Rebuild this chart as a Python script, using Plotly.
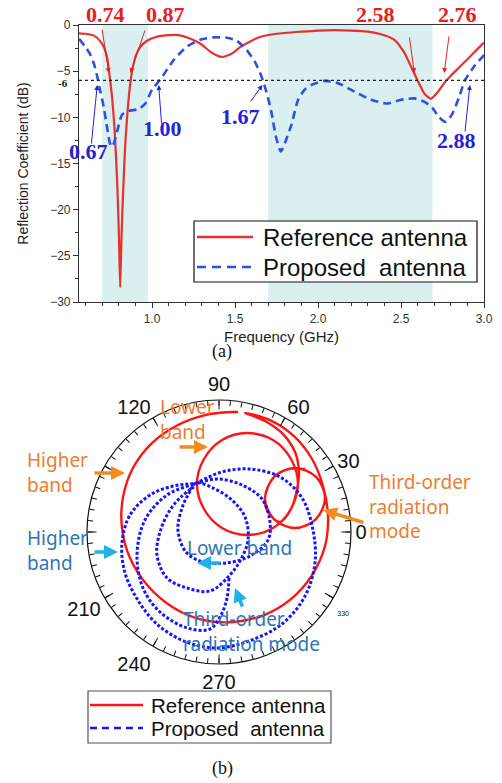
import numpy as np
import plotly.graph_objects as go

W, H = 502, 783

# ---------------- (a) reflection coefficient versus frequency ----------------
freq_ref = [0.56, 0.60, 0.65, 0.69, 0.71, 0.73, 0.745, 0.76, 0.775, 0.79, 0.80, 0.808,
            0.816, 0.826, 0.84, 0.855, 0.87, 0.885, 0.905, 0.93, 0.97, 1.03, 1.10, 1.16,
            1.22, 1.29, 1.36, 1.42, 1.48, 1.535, 1.60, 1.655, 1.75, 1.90, 2.00, 2.10,
            2.20, 2.30, 2.38, 2.46, 2.52, 2.56, 2.60, 2.64, 2.68, 2.72, 2.76, 2.80,
            2.85, 2.90, 2.95, 3.00]
s11_ref = [-0.9, -0.95, -1.15, -1.8, -2.4, -3.6, -5.6, -8.0, -11.5, -17.0, -22.5, -28.4,
           -23.0, -18.0, -12.5, -8.8, -6.2, -4.5, -3.2, -2.35, -1.7, -1.27, -1.1, -1.1,
           -1.4, -2.0, -3.0, -3.45, -3.1, -2.35, -1.7, -1.27, -0.95, -0.72, -0.6, -0.55,
           -0.6, -0.72, -1.0, -1.6, -3.0, -4.5, -6.0, -7.4, -8.0, -7.3, -6.3, -5.5,
           -4.6, -3.7, -2.8, -1.9]

freq_prop = [0.56, 0.60, 0.625, 0.65, 0.67, 0.69, 0.71, 0.73, 0.745, 0.757, 0.77, 0.79,
             0.82, 0.86, 0.92, 0.96, 1.00, 1.05, 1.13, 1.21, 1.29, 1.37, 1.45, 1.51,
             1.57, 1.62, 1.66, 1.69, 1.72, 1.745, 1.776, 1.80, 1.84, 1.88, 1.92, 1.96,
             2.04, 2.12, 2.22, 2.32, 2.42, 2.50, 2.58, 2.64, 2.69, 2.73, 2.77, 2.81,
             2.85, 2.885, 2.94, 3.00]
s11_prop = [-1.5, -2.4, -3.1, -4.2, -5.6, -7.3, -9.0, -11.2, -12.7, -13.2, -12.8, -11.5,
            -9.7, -9.3, -9.1, -8.5, -7.0, -5.9, -3.8, -2.35, -1.6, -1.34, -1.38, -1.7,
            -2.7, -4.0, -5.6, -7.3, -9.5, -12.0, -13.7, -12.8, -10.8, -8.1, -7.0, -6.5,
            -6.05, -6.3, -7.2, -8.1, -8.5, -8.1, -7.95, -8.3, -9.0, -10.0, -10.5, -9.6,
            -7.8, -6.0, -4.5, -3.25]

band_lo = [0.70, 1.70]
band_hi = [0.975, 2.69]
threshold_db = -6

ref_marks = ["0.74", "0.87", "2.58", "2.76"]
ref_mark_freq = [0.74, 0.87, 2.58, 2.76]
prop_marks = ["0.67", "1.00", "1.67", "2.88"]
prop_mark_freq = [0.67, 1.04, 1.665, 2.915]

x_ticks = [1.0, 1.5, 2.0, 2.5, 3.0]
y_ticks = [0, -5, -10, -15, -20, -25, -30]

series_names = ["Reference antenna", "Proposed\u00a0 antenna"]

# ---------------- (b) reflection-coefficient loci ----------------
gamma_ref_re = [0.144, 0.098, -0.106, -0.311, -0.508, -0.652, -0.727, -0.735, -0.674, -0.538,
                -0.341, -0.121, 0.114, 0.341, 0.545, 0.705, 0.803, 0.826, 0.788, 0.705,
                0.568, 0.386, 0.197,
                0.348, 0.485, 0.576, 0.606,
                0.598, 0.545, 0.409, 0.212, 0.023, -0.114, -0.167, -0.114, 0.023, 0.212,
                0.409, 0.545, 0.598, 0.545, 0.462, 0.371,
                0.348, 0.417, 0.576, 0.735, 0.803, 0.735, 0.576, 0.417, 0.348, 0.417,
                0.523, 0.652]
gamma_ref_im = [0.909, 0.909, 0.886, 0.811, 0.674, 0.485, 0.265, 0.030, -0.197, -0.409,
                -0.576, -0.667, -0.682, -0.629, -0.508, -0.326, -0.106, 0.121, 0.348, 0.553,
                0.727, 0.848, 0.902,
                0.841, 0.742, 0.606, 0.455,
                0.364, 0.174, 0.030, -0.023, 0.030, 0.174, 0.364, 0.553, 0.697, 0.750,
                0.697, 0.553, 0.364, 0.174, 0.076, 0.152,
                0.258, 0.417, 0.485, 0.417, 0.258, 0.098, 0.030, 0.098, 0.258, 0.417,
                0.477, 0.477]

gamma_prop_re = [0.076, 0.061, 0.015, -0.068, -0.242, -0.447, -0.576, -0.621, -0.561,
                 -0.394, -0.174,
                 0.023, 0.235, 0.462, 0.629, 0.712, 0.727, 0.652, 0.477, 0.227, -0.023,
                 -0.265, -0.462, -0.606, -0.712, -0.735, -0.674, -0.523, -0.348, -0.174,
                 -0.008, 0.174, 0.326, 0.386, 0.371, 0.235, 0.053, -0.121, -0.250, -0.311,
                 -0.280, -0.227, -0.174,
                 -0.045, 0.098, 0.197, 0.220, 0.167, 0.076,
                 -0.068, -0.242, -0.394, -0.470, -0.447, -0.371, -0.280, -0.189]
gamma_prop_im = [-0.348, -0.500, -0.629, -0.735, -0.727, -0.606, -0.424, -0.174, 0.091,
                 0.280, 0.371,
                 0.455, 0.477, 0.417, 0.258, 0.015, -0.235, -0.485, -0.697, -0.826, -0.879,
                 -0.826, -0.705, -0.530, -0.311, -0.083, 0.129, 0.280, 0.348, 0.371,
                 0.402, 0.356, 0.250, 0.076, -0.061, -0.182, -0.235, -0.227, -0.152, 0.015,
                 0.182, 0.295, 0.371,
                 0.333, 0.242, 0.114, -0.061, -0.205, -0.333,
                 -0.447, -0.424, -0.348, -0.174, 0.000, 0.167, 0.273, 0.341]

angle_ticks = list(range(0, 360, 5))
angle_labels = {0: "0", 30: "30", 60: "60", 90: "90", 120: "120", 210: "210",
                240: "240", 270: "270", 330: '<span style="font-size:7px">330</span>'}

RED = "#E8302C"
BLUE = "#2F4FE6"
RED_B = "#FF1414"
BLUE_B = "#1414FF"
ORANGE = "#ED7D31"
STEEL = "#2E75B6"
SANS = "Liberation Sans, Arial, sans-serif"
SERIF = "Liberation Serif, Times New Roman, serif"
CALLOUT = "Noto Sans, Open Sans, sans-serif"


def px(x):
    return x / W


def py(y):
    return 1 - y / H


def label(x, y, text, font, xanchor="center"):
    return dict(xref="paper", yref="paper", x=px(x), y=py(y), text=text, showarrow=False,
                xanchor=xanchor, yanchor="middle", align="left", font=font)


fig = go.Figure()

fig.add_trace(go.Scatter(x=freq_ref, y=s11_ref, mode="lines", name=series_names[0],
                         line=dict(color=RED, width=2.2, shape="spline", smoothing=0.6),
                         showlegend=False))
fig.add_trace(go.Scatter(x=freq_prop, y=s11_prop, mode="lines", name=series_names[1],
                         line=dict(color=BLUE, width=2.6, dash="8px,5px", shape="spline",
                                   smoothing=0.6),
                         showlegend=False))

r_ref = np.hypot(gamma_ref_re, gamma_ref_im)
t_ref = np.degrees(np.arctan2(gamma_ref_im, gamma_ref_re))
r_prop = np.hypot(gamma_prop_re, gamma_prop_im)
t_prop = np.degrees(np.arctan2(gamma_prop_im, gamma_prop_re))

fig.add_trace(go.Scatterpolar(r=r_ref, theta=t_ref, mode="lines", name=series_names[0],
                              line=dict(color=RED_B, width=2.4, shape="spline", smoothing=1.0),
                              subplot="polar", showlegend=False))
fig.add_trace(go.Scatterpolar(r=r_prop, theta=t_prop, mode="lines", name=series_names[1],
                              line=dict(color=BLUE_B, width=3, dash="3px,2px", shape="spline",
                                        smoothing=1.0),
                              subplot="polar", showlegend=False))
# second polar frame carries only the longer 30-degree ticks
fig.add_trace(go.Scatterpolar(r=[], theta=[], subplot="polar2", showlegend=False))

shapes = []
for lo, hi in zip(band_lo, band_hi):
    shapes.append(dict(type="rect", xref="x", yref="y", x0=lo, x1=hi, y0=-30, y1=0,
                       fillcolor="#DAEFF0", line=dict(width=0), layer="below"))
shapes.append(dict(type="line", xref="x", yref="y", x0=0.56, x1=3.0,
                   y0=threshold_db, y1=threshold_db,
                   line=dict(color="#222", width=1.3, dash="dot")))

ann = []

# legends drawn as boxed keys
legend_boxes = [
    dict(box=(194, 221, 477, 282), rows=(237, 267), key=(197, 253), text_x=261, size=24,
         red=RED, blue=BLUE, blue_dash="9px,6px", border="#111"),
    dict(box=(88, 691, 331, 743), rows=(705, 728), key=(90, 143), text_x=149, size=20.5,
         red=RED_B, blue=BLUE_B, blue_dash="7px,5px", border="#555"),
]
for lg in legend_boxes:
    x0, y0, x1, y1 = lg["box"]
    shapes.append(dict(type="rect", xref="paper", yref="paper", x0=px(x0), x1=px(x1),
                       y0=py(y1), y1=py(y0), fillcolor="white",
                       line=dict(color=lg["border"], width=1.2), layer="above"))
    k0, k1 = lg["key"]
    for row, col, dash, name in zip(lg["rows"], (lg["red"], lg["blue"]),
                                    ("solid", lg["blue_dash"]), series_names):
        shapes.append(dict(type="line", xref="paper", yref="paper", x0=px(k0), x1=px(k1),
                           y0=py(row), y1=py(row), layer="above",
                           line=dict(color=col, width=2.6, dash=dash)))
        ann.append(label(lg["text_x"], row, name,
                         dict(family=SANS, size=lg["size"], color="#111"), xanchor="left"))

# value labels and pointers in (a)
ref_label_pos = [(105, 14), (165, 14), (375, 14), (457, 14)]
ref_tail = [(-7, -45), (15, -44), (-5, -37), (5, -38)]
for txt, f, (lx, ly), (ax, ay) in zip(ref_marks, ref_mark_freq, ref_label_pos, ref_tail):
    ann.append(label(lx, ly, f"<b>{txt}</b>", dict(family=SERIF, size=22, color="#E8201C")))
    ann.append(dict(xref="x", yref="y", x=f, y=-5.2, ax=ax, ay=ay, text="",
                    showarrow=True, arrowhead=2, arrowsize=1, arrowwidth=1,
                    arrowcolor="#E8201C"))
prop_label_pos = [(88, 151), (162, 128), (240, 116), (456, 140)]
prop_tail = [(-6, 60), (3, 40), (-13, 18), (-5, 48)]
for txt, f, (lx, ly), (ax, ay) in zip(prop_marks, prop_mark_freq, prop_label_pos, prop_tail):
    ann.append(label(lx, ly, f"<b>{txt}</b>", dict(family=SERIF, size=22, color="#1E24D8")))
    ann.append(dict(xref="x", yref="y", x=f, y=-6.5, ax=ax, ay=ay, text="",
                    showarrow=True, arrowhead=2, arrowsize=1, arrowwidth=1,
                    arrowcolor="#1E24D8"))
ann.append(dict(xref="paper", yref="y", x=px(70), y=threshold_db, xanchor="right",
                yanchor="middle", text="<b>-6</b>", showarrow=False, yshift=-3,
                font=dict(family=SERIF, size=11, color="#111")))
ann.append(label(222, 352, "(a)", dict(family=SERIF, size=18, color="#111")))
ann.append(label(222, 768, "(b)", dict(family=SERIF, size=18, color="#111")))

# band / mode call-outs in (b)
callouts = [
    ("Lower<br>band", 158, 419, ORANGE),
    ("Higher<br>band", 25, 472, ORANGE),
    ("Third-order<br>radiation<br>mode", 367, 506, ORANGE),
    ("Higher<br>band", 25, 550, STEEL),
    ("Lower band", 185, 548, STEEL),
    ("Third-order<br>radiation mode", 181, 631, STEEL),
]
for txt, lx, ly, col in callouts:
    ann.append(label(lx, ly, txt, dict(family=CALLOUT, size=19, color=col), xanchor="left"))
pointers = [
    ((208, 447), (-30, 0), "#F28C1E"),
    ((125, 473), (-32, 0), "#F28C1E"),
    ((323, 510), (42, 13), "#F28C1E"),
    ((118, 552), (-25, 0), "#1FB2E6"),
    ((197, 563), (25, 0), "#1FB2E6"),
    ((235, 588), (8, 20), "#1FB2E6"),
]
for (hx, hy), (ax, ay), col in pointers:
    ann.append(dict(xref="paper", yref="paper", x=px(hx), y=py(hy), ax=ax, ay=ay,
                    text="", showarrow=True, arrowhead=2, arrowsize=0.8, arrowwidth=3.5,
                    arrowcolor=col))

polar_domain = dict(x=[px(87), px(351)], y=[py(664), py(400)])

fig.update_layout(
    width=W, height=H, autosize=False,
    margin=dict(l=0, r=0, t=0, b=0),
    paper_bgcolor="white", plot_bgcolor="white",
    showlegend=False,
    shapes=shapes, annotations=ann,
    xaxis=dict(domain=[px(79), px(484)], range=[0.56, 3.0], tickvals=x_ticks,
               ticktext=[f"{v:.1f}" for v in x_ticks], ticks="outside", ticklen=5,
               tickcolor="#333", showline=True, linecolor="#333", linewidth=1.2, mirror=True,
               showgrid=False, zeroline=False,
               tickfont=dict(family=SANS, size=12, color="#333"),
               minor=dict(dtick=0.1, tick0=0.5, ticks="outside", ticklen=3, tickcolor="#333"),
               title=dict(text="Frequency (GHz)", standoff=6,
                          font=dict(family=SANS, size=15, color="#222")),
               automargin=False),
    yaxis=dict(domain=[py(302), py(25)], range=[-30, 0], tickvals=y_ticks,
               ticks="outside", ticklen=5, tickcolor="#333", showline=True,
               linecolor="#333", linewidth=1.2, mirror=True, showgrid=False, zeroline=False,
               tickfont=dict(family=SANS, size=12, color="#333"),
               minor=dict(dtick=2.5, ticks="outside", ticklen=3, tickcolor="#333"),
               title=dict(text="Reflection Coefficient (dB)", standoff=18,
                          font=dict(family=SANS, size=14, color="#222")),
               automargin=False),
    polar=dict(domain=polar_domain, bgcolor="white",
               radialaxis=dict(range=[0, 1], visible=False),
               angularaxis=dict(rotation=0, direction="counterclockwise",
                                tickvals=angle_ticks,
                                ticktext=[angle_labels.get(a, "") for a in angle_ticks],
                                ticks="inside", ticklen=5, tickcolor="#111",
                                showline=True, linecolor="#111", linewidth=1.2,
                                showgrid=False,
                                tickfont=dict(family=SANS, size=20, color="#111"))),
    polar2=dict(domain=polar_domain, bgcolor="rgba(0,0,0,0)",
                radialaxis=dict(range=[0, 1], visible=False),
                angularaxis=dict(rotation=0, direction="counterclockwise",
                                 tickvals=list(range(0, 360, 30)), ticks="inside",
                                 ticklen=9, tickcolor="#111", showline=False,
                                 showgrid=False, showticklabels=False)),
)

fig.write_html("out.html")
